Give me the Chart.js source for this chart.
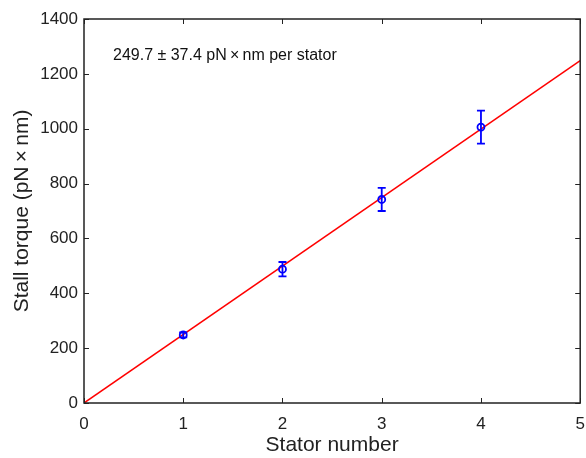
<!DOCTYPE html>
<html>
<head>
<meta charset="utf-8">
<script src="https://cdn.jsdelivr.net/npm/chart.js@4.4.0/dist/chart.umd.min.js"></script>
<style>
html,body{margin:0;padding:0;background:#fff;}
#wrap{width:586px;height:458px;position:relative;}
</style>
</head>
<body>
<div id="wrap"><canvas id="c" width="586" height="458"></canvas></div>
<script>
const statorNumbers = [1, 2, 3, 4];
const stallTorque = [248, 488, 742, 1006];
const torqueError = [9, 26, 42, 60];
const fitX = [0, 5];
const fitY = [0, 1248.5];
const xTicks = [0, 1, 2, 3, 4, 5];
const yTicks = [0, 200, 400, 600, 800, 1000, 1200, 1400];
const annotationText = '249.7 \u00B1 37.4 pN\u2009\u00D7\u2009nm per stator';

const FONT = '"Liberation Sans", Arial, sans-serif';

const boxPlugin = {
  id: 'boxPlugin',
  afterDatasetsDraw(chart) {
    const ctx = chart.ctx;
    const xs = chart.scales.x, ys = chart.scales.y;
    const a = chart.chartArea;
    ctx.save();
    // error bars
    ctx.strokeStyle = '#0000ff';
    ctx.lineWidth = 1.8;
    statorNumbers.forEach((sx, i) => {
      const px = xs.getPixelForValue(sx);
      const top = ys.getPixelForValue(stallTorque[i] + torqueError[i]);
      const bot = ys.getPixelForValue(stallTorque[i] - torqueError[i]);
      ctx.beginPath();
      ctx.moveTo(px, top); ctx.lineTo(px, bot);
      ctx.moveTo(px - 4, top); ctx.lineTo(px + 4, top);
      ctx.moveTo(px - 4, bot); ctx.lineTo(px + 4, bot);
      ctx.stroke();
    });
    // box
    ctx.strokeStyle = '#222';
    ctx.lineWidth = 1.5;
    ctx.strokeRect(a.left, a.top, a.right - a.left, a.bottom - a.top);
    // inward ticks
    ctx.lineWidth = 1;
    ctx.beginPath();
    xTicks.forEach(v => {
      const p = Math.round(xs.getPixelForValue(v)) + 0.5;
      ctx.moveTo(p, a.bottom); ctx.lineTo(p, a.bottom - 5);
      ctx.moveTo(p, a.top); ctx.lineTo(p, a.top + 5);
    });
    yTicks.forEach(v => {
      const p = Math.round(ys.getPixelForValue(v)) + 0.5;
      ctx.moveTo(a.left, p); ctx.lineTo(a.left + 5, p);
      ctx.moveTo(a.right, p); ctx.lineTo(a.right - 5, p);
    });
    ctx.stroke();
    // annotation
    ctx.fillStyle = '#111';
    ctx.font = '16px ' + FONT;
    ctx.textBaseline = 'middle';
    ctx.textAlign = 'left';
    ctx.fillText(annotationText, 113, 56);
    ctx.restore();
  }
};

new Chart(document.getElementById('c'), {
  type: 'scatter',
  data: {
    datasets: [
      {
        type: 'line',
        data: fitX.map((x, i) => ({x: x, y: fitY[i]})),
        borderColor: '#ff0000',
        borderWidth: 1.5,
        pointRadius: 0,
        fill: false,
        order: 2
      },
      {
        data: statorNumbers.map((x, i) => ({x: x, y: stallTorque[i]})),
        borderColor: '#0000ff',
        backgroundColor: 'rgba(0,0,0,0)',
        borderWidth: 1.8,
        pointRadius: 3.5,
        pointStyle: 'circle',
        order: 1
      }
    ]
  },
  options: {
    responsive: false,
    animation: false,
    layout: {padding: {top: 19, right: 5, left: 0, bottom: 0}},
    plugins: {legend: {display: false}, tooltip: {enabled: false}},
    scales: {
      x: {
        type: 'linear', min: 0, max: 5,
        afterBuildTicks(s) { s.ticks = xTicks.map(v => ({value: v})); },
        afterFit(s) { s.height = 55; s.paddingLeft = 0; s.paddingRight = 0; },
        grid: {display: false, drawTicks: false},
        border: {display: false},
        ticks: {color: '#222', font: {family: FONT, size: 17}, padding: 11, maxRotation: 0,
                callback: v => String(v)},
        title: {display: true, text: 'Stator number', color: '#222', font: {family: FONT, size: 21}, padding: {top: 0, bottom: 0}}
      },
      y: {
        type: 'linear', min: 0, max: 1400,
        afterBuildTicks(s) { s.ticks = yTicks.map(v => ({value: v})); },
        afterFit(s) { s.width = 84; s.paddingTop = 0; s.paddingBottom = 0; },
        grid: {display: false, drawTicks: false},
        border: {display: false},
        ticks: {color: '#222', font: {family: FONT, size: 17}, padding: 6,
                callback: v => String(v)},
        title: {display: true, text: 'Stall torque (pN\u2009\u00D7\u2009nm)', color: '#222', font: {family: FONT, size: 21}, padding: {top: 10, bottom: 0}}
      }
    }
  },
  plugins: [boxPlugin]
});
</script>
</body>
</html>
